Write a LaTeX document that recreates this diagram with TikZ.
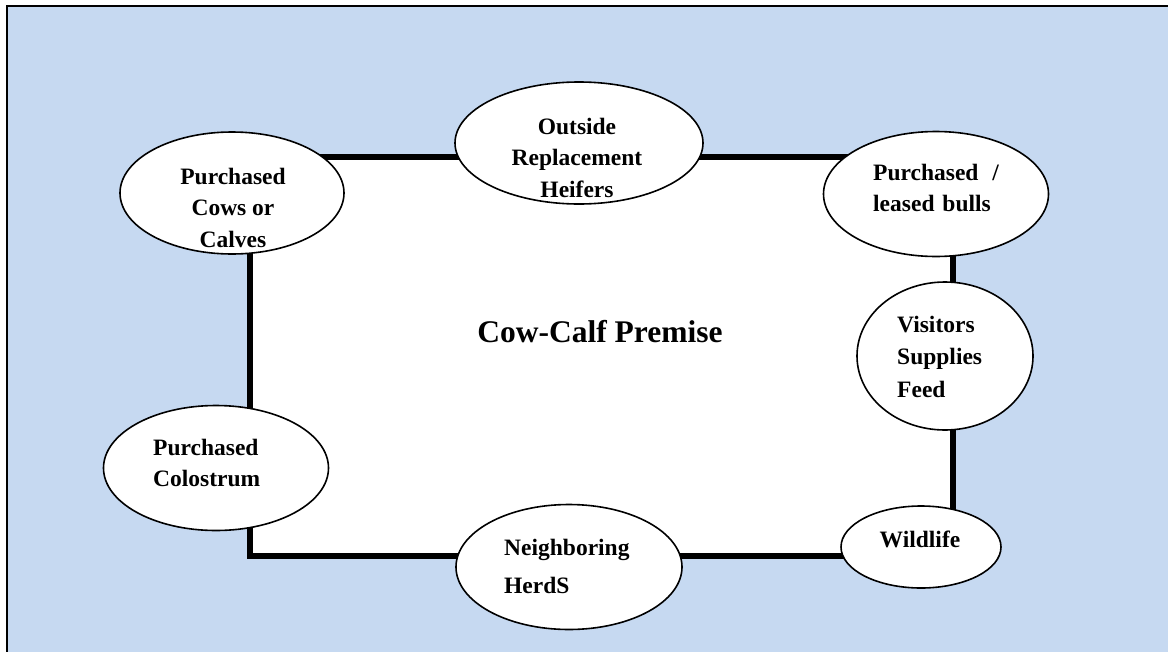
\documentclass[tikz,border=0pt]{standalone}
\usepackage{fontspec}
\setmainfont{Liberation Serif}
\usetikzlibrary{shapes.geometric}
\definecolor{bgblue}{RGB}{198,217,241}
\newcommand{\ltxt}[2]{\begin{tabular}[t]{@{}#1@{}}#2\end{tabular}}
\begin{document}
\begin{tikzpicture}[x=1pt,y=-1pt,
  oval/.style={ellipse, draw=black, line width=1.6pt, fill=white, inner sep=0pt},
  lbl/.style={inner sep=0pt, font=\bfseries\fontsize{23.5}{31.5}\selectfont},
  border/.style={line width=6pt, line join=miter}]
\useasboundingbox (0,0) rectangle (1168,651);
% background frame
\fill[bgblue] (7,6) rectangle (1172,655);
\draw[line width=2pt] (7,660) -- (7,6) -- (1175,6);
% premise rectangle
\coordinate (nw) at (250,157);
\coordinate (se) at (953,556);
\filldraw[fill=white, border] (nw) rectangle (se);
\node[font=\bfseries\fontsize{31.5}{36}\selectfont, inner sep=0pt, anchor=base] (premise) at (600,342) {Cow-Calf Premise};
% ellipses
\node[oval, minimum width=224, minimum height=122] (e1) at (232,193) {};
\node[oval, minimum width=248, minimum height=122] (e2) at (579,143) {};
\node[oval, minimum width=225, minimum height=125] (e3) at (936,194) {};
\node[oval, minimum width=176, minimum height=148] (e4) at (945,356) {};
\node[oval, minimum width=160, minimum height=82] (e5) at (921,547) {};
\node[oval, minimum width=225, minimum height=125] (e6) at (216,468) {};
\node[oval, minimum width=226, minimum height=125] (e7) at (569,567) {};
% labels
\node[lbl, anchor=base] (t1) at (233,184) {\ltxt{c}{Purchased\\Cows or\\Calves}};
\node[lbl, anchor=base] (t2) at (577,134) {\ltxt{c}{Outside\\Replacement\\Heifers}};
\node[lbl, anchor=base west] (t3) at (873,180) {\ltxt{l}{Purchased\hspace{8pt} /\\leased\hspace{2pt} bulls}};
\node[lbl, anchor=base west, font=\bfseries\fontsize{23.5}{32.5}\selectfont] (t4) at (897,332) {\ltxt{l}{Visitors\\Supplies\\Feed}};
\node[lbl, anchor=base] (t5) at (920,547) {Wildlife};
\node[lbl, anchor=base west, font=\bfseries\fontsize{23.5}{31}\selectfont] (t6) at (153,455) {\ltxt{l}{Purchased\\Colostrum}};
\node[lbl, anchor=base west, font=\bfseries\fontsize{23.5}{38}\selectfont] (t7) at (504,555) {\ltxt{l}{Neighboring\\HerdS}};
\end{tikzpicture}
\end{document}
